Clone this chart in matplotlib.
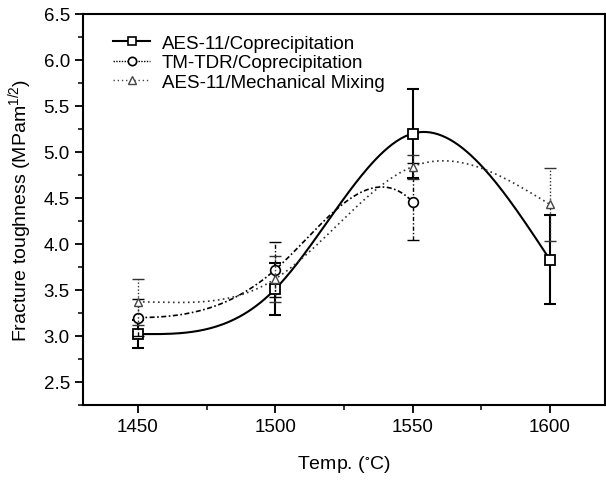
import numpy as np
import matplotlib.pyplot as plt
from matplotlib.ticker import MultipleLocator

plt.rcParams['font.family'] = ['Liberation Sans', 'DejaVu Sans']
plt.rcParams['mathtext.default'] = 'regular'

temps = [1450, 1500, 1550, 1600]

aes_cop = [3.02, 3.51, 5.20, 3.83]
aes_cop_err = [0.15, 0.28, 0.48, 0.48]

tm_temps = [1450, 1500, 1550]
tm_cop = [3.20, 3.72, 4.46]
tm_cop_err = [0.20, 0.30, 0.42]

aes_mix = [3.37, 3.62, 4.84, 4.43]
aes_mix_err = [0.25, 0.25, 0.13, 0.40]


def spline(x, y, s0=None, s1=None, n=200):
    # cubic spline, clamped end if slope given, natural otherwise
    x = np.asarray(x, float)
    y = np.asarray(y, float)
    m = len(x)
    h = np.diff(x)
    A = np.zeros((m, m))
    b = np.zeros(m)
    for i in range(1, m - 1):
        A[i, i - 1] = h[i - 1]
        A[i, i] = 2 * (h[i - 1] + h[i])
        A[i, i + 1] = h[i]
        b[i] = 6 * ((y[i + 1] - y[i]) / h[i] - (y[i] - y[i - 1]) / h[i - 1])
    if s0 is None:
        A[0, 0] = 1
    else:
        A[0, 0] = 2 * h[0]
        A[0, 1] = h[0]
        b[0] = 6 * ((y[1] - y[0]) / h[0] - s0)
    if s1 is None:
        A[-1, -1] = 1
    else:
        A[-1, -1] = 2 * h[-1]
        A[-1, -2] = h[-1]
        b[-1] = 6 * (s1 - (y[-1] - y[-2]) / h[-1])
    M = np.linalg.solve(A, b)
    xs = np.linspace(x[0], x[-1], n)
    ys = np.empty_like(xs)
    for k, xv in enumerate(xs):
        i = min(np.searchsorted(x, xv, side='right') - 1, m - 2)
        t1 = x[i + 1] - xv
        t0 = xv - x[i]
        ys[k] = (M[i] * t1 ** 3 / (6 * h[i]) + M[i + 1] * t0 ** 3 / (6 * h[i])
                 + (y[i] / h[i] - M[i] * h[i] / 6) * t1
                 + (y[i + 1] / h[i] - M[i + 1] * h[i] / 6) * t0)
    return xs, ys


fig = plt.figure(figsize=(6.06, 4.81), dpi=100)
ax = fig.add_axes([0.137, 0.156, 0.861, 0.813])

dashdot = (0, (3, 1.5, 1, 1.5))

# AES-11/Coprecipitation
xs, ys = spline(temps, aes_cop, s0=0)
ax.plot(xs, ys, '-', color='black', lw=1.5)
ax.errorbar(temps, aes_cop, yerr=aes_cop_err, fmt='none', ecolor='black',
            elinewidth=1.5, capsize=4, capthick=1.5)
ax.plot(temps, aes_cop, 's', mfc='white', mec='black', mew=1.3, ms=7)

# TM-TDR/Coprecipitation
xs, ys = spline(tm_temps, tm_cop, s0=0, s1=-0.03)
ax.plot(xs, ys, linestyle=dashdot, color='black', lw=1.2)
eb = ax.errorbar(tm_temps, tm_cop, yerr=tm_cop_err, fmt='none', ecolor='black',
                 elinewidth=1.0, capsize=4, capthick=1.0)
eb[2][0].set_linestyle(dashdot)
ax.plot(tm_temps, tm_cop, 'o', mfc='white', mec='black', mew=1.2, ms=7)

# AES-11/Mechanical Mixing
xs, ys = spline(temps, aes_mix, s0=0)
ax.plot(xs, ys, linestyle=(0, (1, 2)), color='#333333', lw=1.2)
eb = ax.errorbar(temps, aes_mix, yerr=aes_mix_err, fmt='none', ecolor='#333333',
                 elinewidth=1.0, capsize=4, capthick=1.0)
eb[2][0].set_linestyle((0, (1, 1.5)))
ax.plot(temps, aes_mix, '^', mfc='white', mec='#444444', mew=1.0, ms=6)

# legend handles
h1, = ax.plot([], [], '-s', color='black', mfc='white', mew=1.2, ms=6, lw=1.5)
h2, = ax.plot([], [], linestyle=(0, (1, 1)), marker='o', color='black',
              mfc='white', mew=1.2, ms=6, lw=1.0)
h3, = ax.plot([], [], linestyle=(0, (1, 2)), marker='^', color='#444444',
              mfc='white', mew=1.0, ms=6, lw=1.0)
ax.legend([h1, h2, h3],
          ['AES-11/Coprecipitation', 'TM-TDR/Coprecipitation',
           'AES-11/Mechanical Mixing'],
          loc='upper left', bbox_to_anchor=(0.025, 0.99), frameon=False,
          fontsize=13.5, handlelength=2.0, handletextpad=0.6, labelspacing=0.12)

ax.set_xlim(1430, 1620)
ax.set_ylim(2.25, 6.5)
ax.xaxis.set_major_locator(MultipleLocator(50))
ax.xaxis.set_minor_locator(MultipleLocator(25))
ax.yaxis.set_major_locator(MultipleLocator(0.5))
ax.yaxis.set_minor_locator(MultipleLocator(0.25))
ax.yaxis.set_major_formatter(plt.FormatStrFormatter('%.1f'))
ax.tick_params(which='major', direction='out', length=6, width=1.3,
               labelsize=13.5)
ax.tick_params(which='minor', direction='out', length=3.5, width=1.1)
for s in ax.spines.values():
    s.set_linewidth(1.5)

ax.set_xlabel('Temp. ($^{\\circ}$C)', fontsize=14, labelpad=13)
ax.set_ylabel('Fracture toughness (MPam$^{1/2}$)', fontsize=14, labelpad=7)

fig.savefig('out.png', dpi=100)
